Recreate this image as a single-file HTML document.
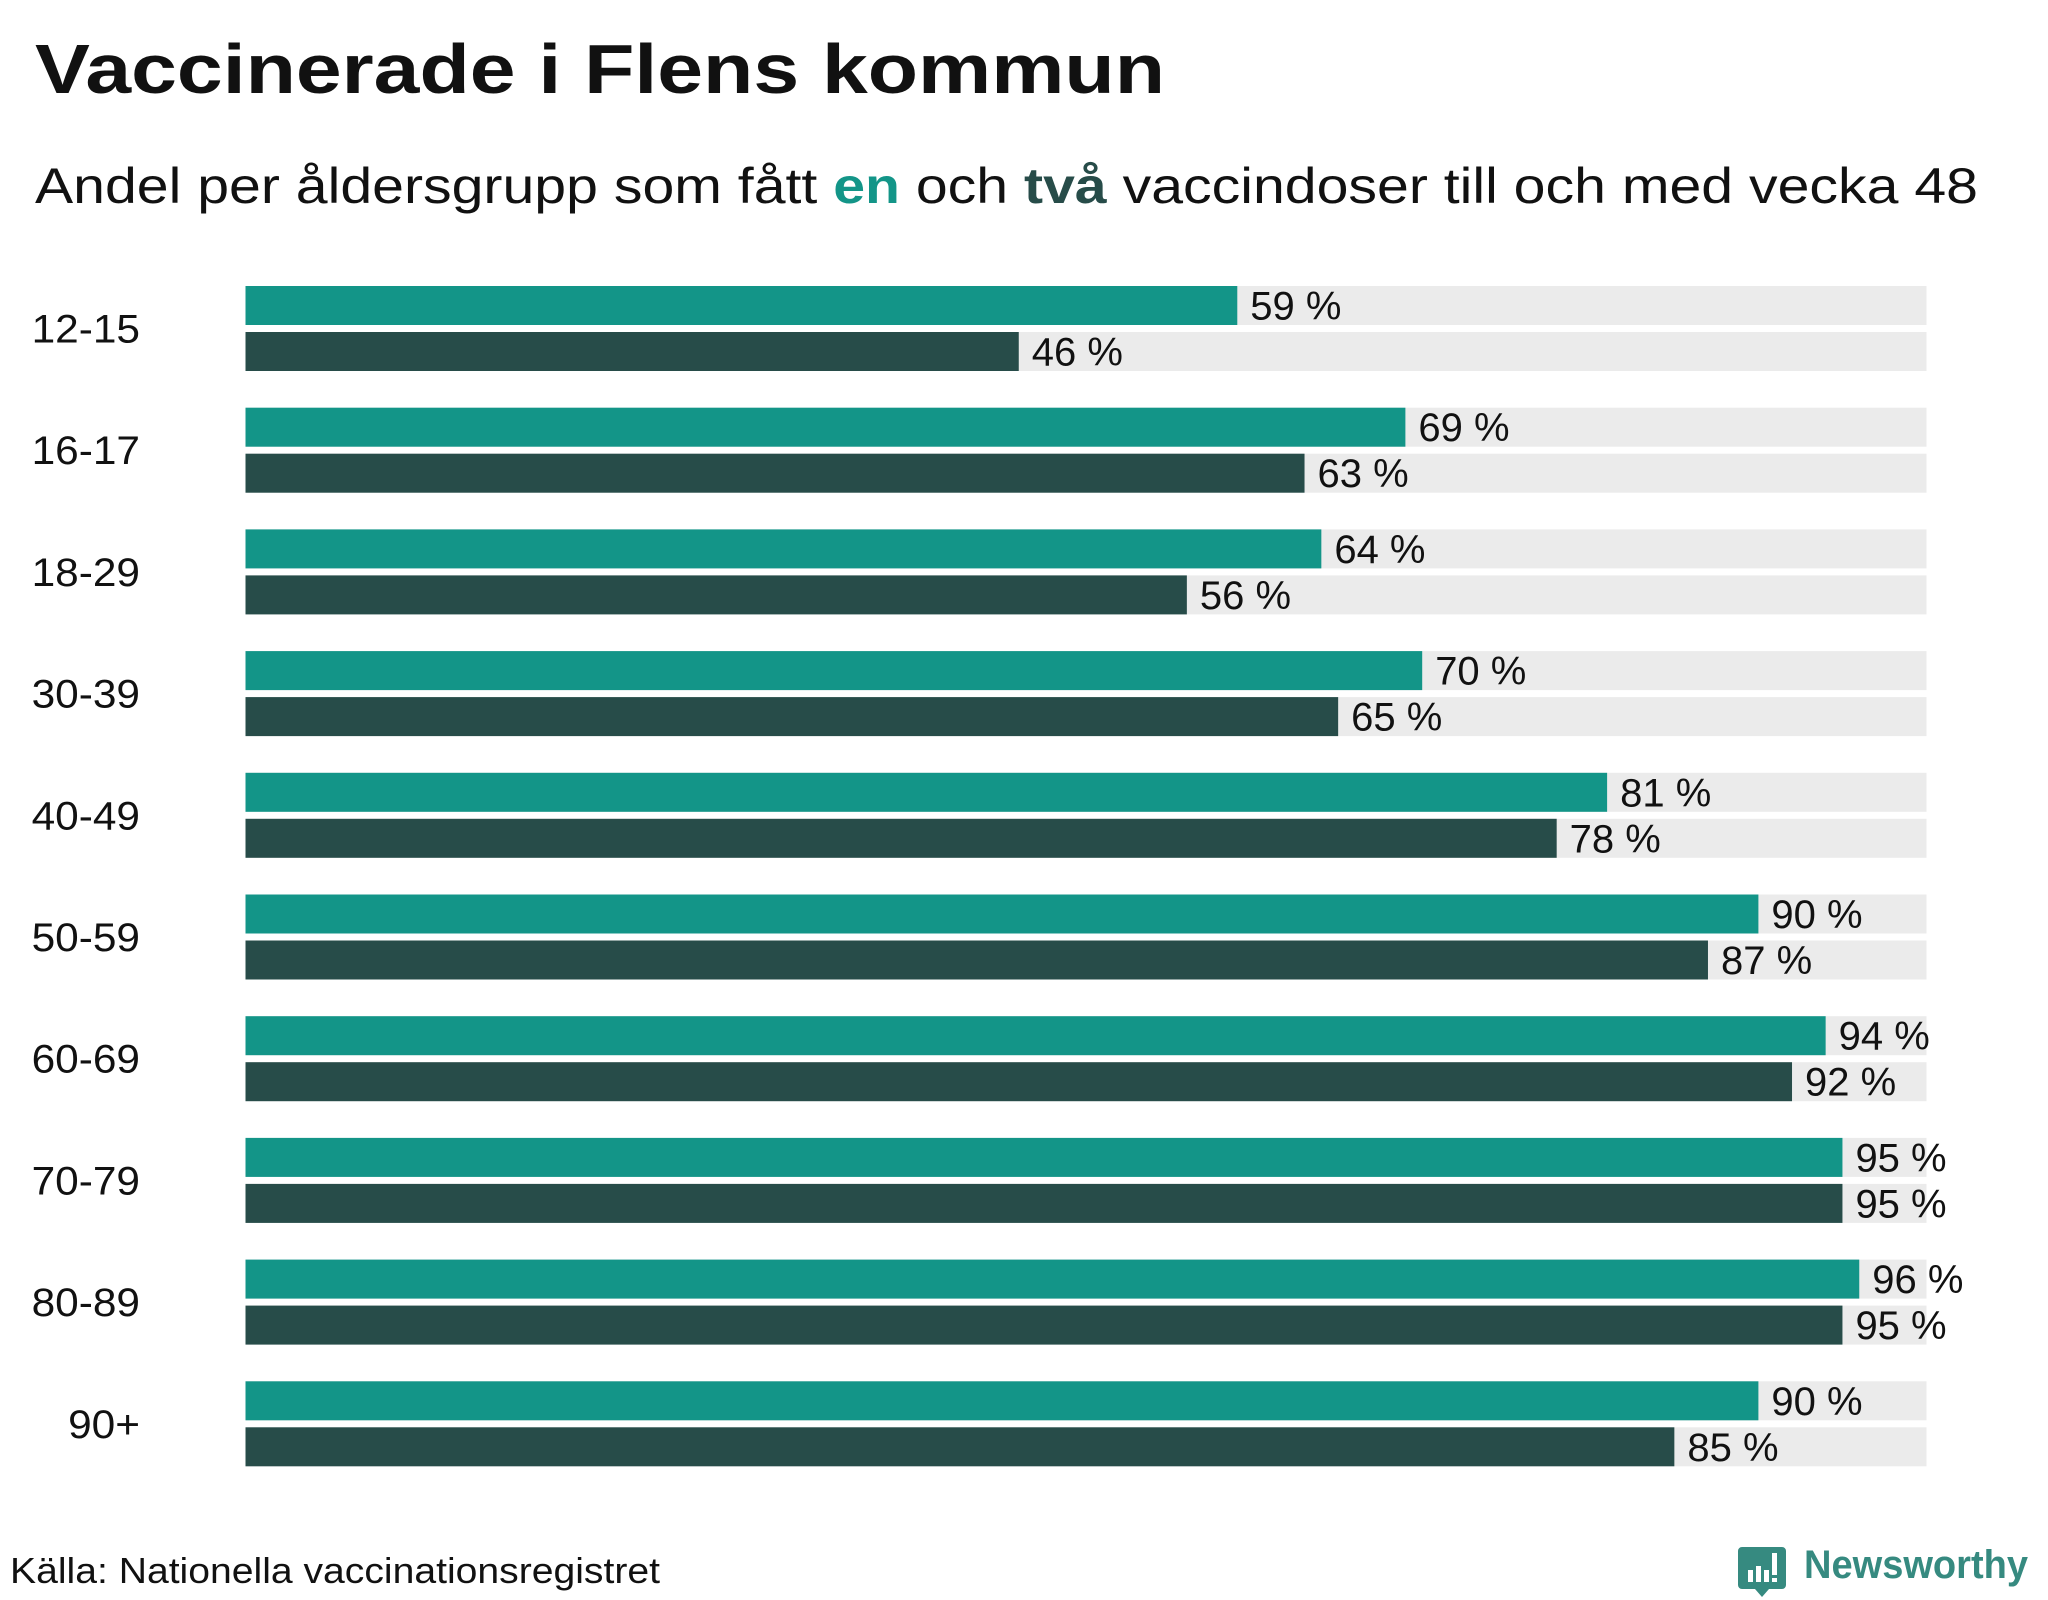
<!DOCTYPE html>
<html><head><meta charset="utf-8"><style>
html,body{margin:0;padding:0;background:#fff;}
svg{display:block;font-family:"Liberation Sans",sans-serif;}
</style></head><body>
<svg id="chart" width="2048" height="1600" viewBox="0 0 2048 1600">
<rect width="2048" height="1600" fill="#fff"/>
<text x="35" y="93" font-size="70" font-weight="bold" fill="#111" textLength="1130" lengthAdjust="spacingAndGlyphs">Vaccinerade i Flens kommun</text>
<text x="35" y="203" font-size="50" fill="#111" textLength="1943" lengthAdjust="spacingAndGlyphs">Andel per åldersgrupp som fått <tspan fill="#139588" font-weight="bold">en</tspan> och <tspan fill="#274c49" font-weight="bold">två</tspan> vaccindoser till och med vecka 48</text>
<g id="bars"></g>
<text x="10" y="1583" font-size="36" fill="#111" textLength="650" lengthAdjust="spacingAndGlyphs">Källa: Nationella vaccinationsregistret</text>
<g>
<path d="M1742 1547 h40 a4 4 0 0 1 4 4 v34 a4 4 0 0 1 -4 4 h-13 l-7 8 l-7 -8 h-13 a4 4 0 0 1 -4 -4 v-34 a4 4 0 0 1 4 -4z" fill="#368a80"/>
<rect x="1748" y="1570" width="5" height="12" fill="#fff"/>
<rect x="1756" y="1566" width="5" height="16" fill="#fff"/>
<rect x="1764" y="1570" width="5" height="12" fill="#fff"/>
<rect x="1772" y="1553" width="5" height="22" fill="#fff"/>
<rect x="1772" y="1578" width="5" height="4" fill="#fff"/>
<text x="1804" y="1578" font-size="40" font-weight="bold" fill="#368a80" textLength="224" lengthAdjust="spacingAndGlyphs">Newsworthy</text>
</g>
</svg>
<script>
const categories = ["12-15","16-17","18-29","30-39","40-49","50-59","60-69","70-79","80-89","90+"];
const oneDose = [59,69,64,70,81,90,94,95,96,90];
const twoDoses = [46,63,56,65,78,87,92,95,95,85];
const NS = "http://www.w3.org/2000/svg";
const g = document.getElementById("bars");
const x0 = 245.5, fullW = 1681, top0 = 286, step = 121.7, barH = 39, gap = 7;
function xScale(v){ return fullW * v / 100; }
function mk(tag, attrs){ const e = document.createElementNS(NS, tag); for (const k in attrs) e.setAttribute(k, attrs[k]); g.appendChild(e); return e; }
categories.forEach((c, i) => {
  const y1 = top0 + i * step, y2 = y1 + barH + gap;
  const lab = mk("text", {x: 140, y: y1 + barH + gap/2 + 14, "font-size": 40, "text-anchor": "end", fill: "#111", transform: "translate(140 0) scale(1.06 1) translate(-140 0)"});
  lab.textContent = c;
  
  
  [[oneDose[i], y1, "#139588", "one-dose"], [twoDoses[i], y2, "#274c49", "two-doses"]].forEach(([v, y, col, nm]) => {
    const bg = mk("rect", {x: x0, y: y, width: fullW, height: barH, fill: "#ebebeb"});
    
    
    const b = mk("rect", {x: x0, y: y, width: xScale(v), height: barH, fill: col});
    
    
    const t = mk("text", {x: x0 + xScale(v) + 13, y: y + barH/2 + 14, "font-size": 40, fill: "#111"});
    t.textContent = v + " %";
    
    
  });
});
</script>
</body></html>
